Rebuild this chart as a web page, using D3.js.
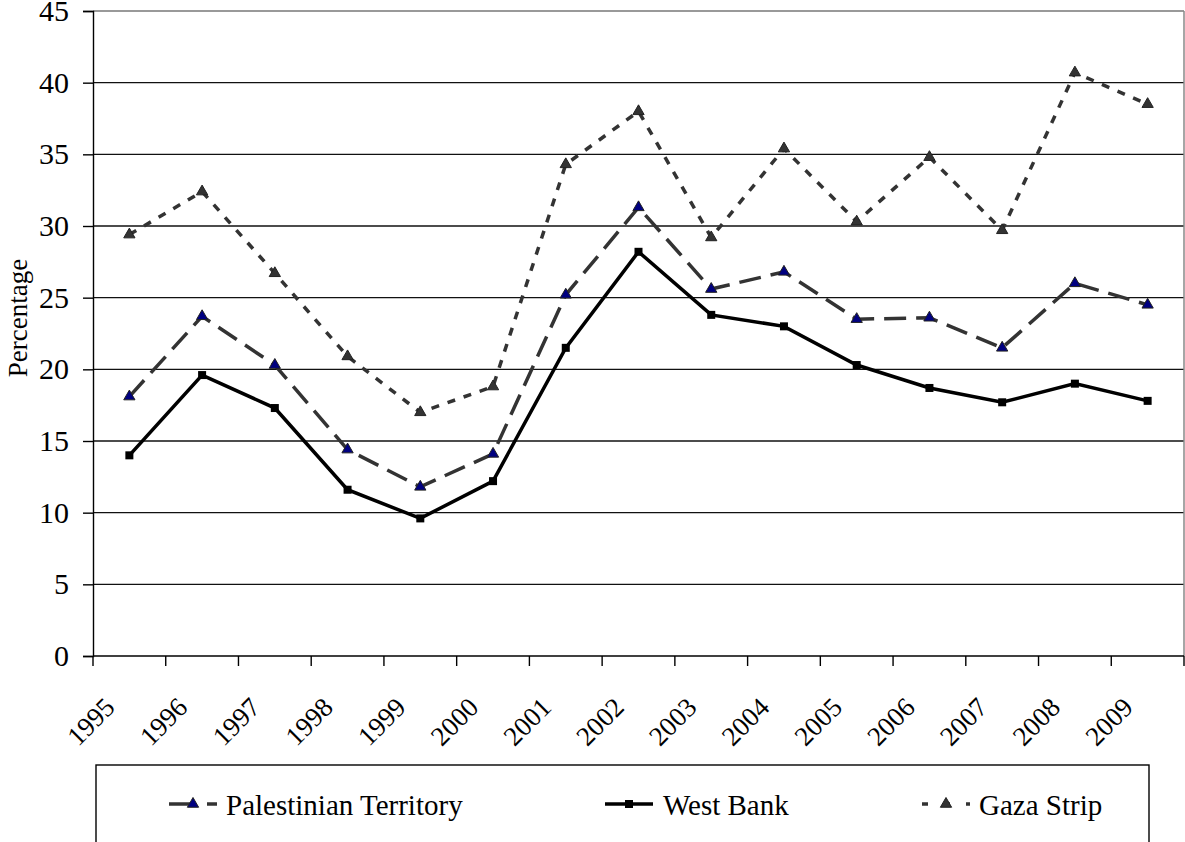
<!DOCTYPE html>
<html>
<head>
<meta charset="utf-8">
<script src="https://cdn.jsdelivr.net/npm/d3@7"></script>
<style>
  body { margin: 0; background: #fff; }
  svg text { font-family: "Liberation Serif", "Times New Roman", serif; fill: #000; }
</style>
</head>
<body>
<div class="line-chart"></div>
<script>
const years = ["1995","1996","1997","1998","1999","2000","2001","2002","2003","2004","2005","2006","2007","2008","2009"];
const palestinian = [18.1, 23.7, 20.3, 14.4, 11.8, 14.1, 25.2, 31.3, 25.6, 26.8, 23.5, 23.6, 21.5, 26.0, 24.5];
const westBank = [14.0, 19.6, 17.3, 11.6, 9.6, 12.2, 21.5, 28.2, 23.8, 23.0, 20.3, 18.7, 17.7, 19.0, 17.8];
const gaza = [29.4, 32.4, 26.7, 20.9, 17.0, 18.8, 34.3, 38.0, 29.2, 35.4, 30.3, 34.8, 29.7, 40.7, 38.5];
const yTicks = [0, 5, 10, 15, 20, 25, 30, 35, 40, 45];
const seriesNames = ["Palestinian Territory", "West Bank", "Gaza Strip"];

const series = [
  {name: seriesNames[0], values: palestinian, stroke: "#333333", dash: "22,10", marker: "triangle", fill: "#000080"},
  {name: seriesNames[1], values: westBank, stroke: "#000000", dash: null, marker: "square", fill: "#000000"},
  {name: seriesNames[2], values: gaza, stroke: "#333333", dash: "8,9", marker: "triangle", fill: "#333333"}
];

const W = 1185, H = 842;
const margin = {top: 11, right: 1, bottom: 186, left: 93};
const width = W - margin.left - margin.right;
const height = H - margin.top - margin.bottom;
const serif = "Liberation Serif";

const svg = d3.select(".line-chart")
  .append("svg")
  .attr("width", W)
  .attr("height", H);

const g = svg.append("g")
  .attr("transform", `translate(${margin.left},${margin.top})`);

let xScale = d3.scaleBand()
  .domain(years)
  .range([0, width]);

let yScale = d3.scaleLinear()
  .domain([0, 45])
  .range([height, 0]);

// gridlines
g.selectAll(".grid")
  .data(yTicks.filter(d => d > 0))
  .enter()
  .append("line")
  .attr("x1", 0)
  .attr("x2", width)
  .attr("y1", d => yScale(d))
  .attr("y2", d => yScale(d))
  .attr("stroke", d => d === 45 ? "#777" : "#111")
  .attr("stroke-width", 1.4);

// right border of plot area
g.append("line")
  .attr("x1", width).attr("x2", width)
  .attr("y1", 0).attr("y2", height)
  .attr("stroke", "#888").attr("stroke-width", 1.5);

// y axis
let yAxis = d3.axisLeft(yScale).tickValues(yTicks).tickSize(10).tickPadding(14);
const yg = g.append("g").attr("class", "axis y-axis").call(yAxis);
yg.attr("font-family", serif);
yg.select(".domain").attr("stroke", "#000").attr("stroke-width", 1.4);
yg.selectAll(".tick line").attr("stroke", "#000").attr("stroke-width", 1.4);
yg.selectAll(".tick text")
  .attr("font-size", 30)
  .attr("font-family", serif)
  .attr("fill", "#000");

// x axis (ticks at category boundaries)
const xg = g.append("g")
  .attr("class", "axis x-axis")
  .attr("transform", `translate(0,${height})`);
xg.append("line")
  .attr("x1", 0).attr("x2", width)
  .attr("stroke", "#000").attr("stroke-width", 1.4);
const bounds = years.map(y => xScale(y)).concat([width]);
xg.selectAll(".xtick")
  .data(bounds)
  .enter()
  .append("line")
  .attr("x1", d => d).attr("x2", d => d)
  .attr("y1", 0).attr("y2", 10)
  .attr("stroke", "#000").attr("stroke-width", 1.4);
xg.selectAll(".xlabel")
  .data(years)
  .enter()
  .append("text")
  .attr("transform", d => `translate(${xScale(d) + xScale.bandwidth() / 2 - 13},${53}) rotate(-45)`)
  .attr("text-anchor", "end")
  .attr("font-family", serif)
  .attr("font-size", 27)
  .text(d => d);

// y axis title
svg.append("text")
  .attr("transform", `translate(27,318) rotate(-90)`)
  .attr("text-anchor", "middle")
  .attr("font-family", serif)
  .attr("font-size", 27)
  .text("Percentage");

const cx = d => xScale(d) + xScale.bandwidth() / 2;
const line = d3.line()
  .x((d, i) => cx(years[i]))
  .y(d => yScale(d));

function drawMarker(sel, s, x, y) {
  if (s.marker === "square") {
    sel.append("rect")
      .attr("x", x - 4).attr("y", y - 4)
      .attr("width", 8).attr("height", 8)
      .attr("fill", s.fill);
  } else {
    sel.append("path")
      .attr("d", d3.symbol().type(d3.symbolTriangle).size(55)())
      .attr("transform", `translate(${x},${y})`)
      .attr("fill", s.fill)
      .attr("stroke", "#222")
      .attr("stroke-width", 1);
  }
}

series.forEach(s => {
  g.append("path")
    .datum(s.values)
    .attr("d", line)
    .attr("fill", "none")
    .attr("stroke", s.stroke)
    .attr("stroke-width", 3.5)
    .attr("stroke-dasharray", s.dash);
  const mg = g.append("g");
  s.values.forEach((v, i) => drawMarker(mg, s, cx(years[i]), yScale(v)));
});

// legend
const legend = svg.append("g");
legend.append("rect")
  .attr("x", 96).attr("y", 765)
  .attr("width", 1053).attr("height", 100)
  .attr("fill", "none")
  .attr("stroke", "#000")
  .attr("stroke-width", 1.4);

const legendSym = [169, 605, 922];
const legendText = [226, 663, 979];
const legendDash = ["24,14", null, "6,16"];
series.forEach((s, i) => {
  const lx = legendSym[i], ly = 804;
  legend.append("line")
    .attr("x1", lx).attr("x2", lx + 48)
    .attr("y1", ly).attr("y2", ly)
    .attr("stroke", s.stroke)
    .attr("stroke-width", 3.5)
    .attr("stroke-dasharray", legendDash[i]);
  drawMarker(legend, s, lx + 24, ly);
  legend.append("text")
    .attr("x", legendText[i])
    .attr("y", 815)
    .attr("font-family", serif)
    .attr("font-size", 29)
    .text(s.name);
});
</script>
</body>
</html>
